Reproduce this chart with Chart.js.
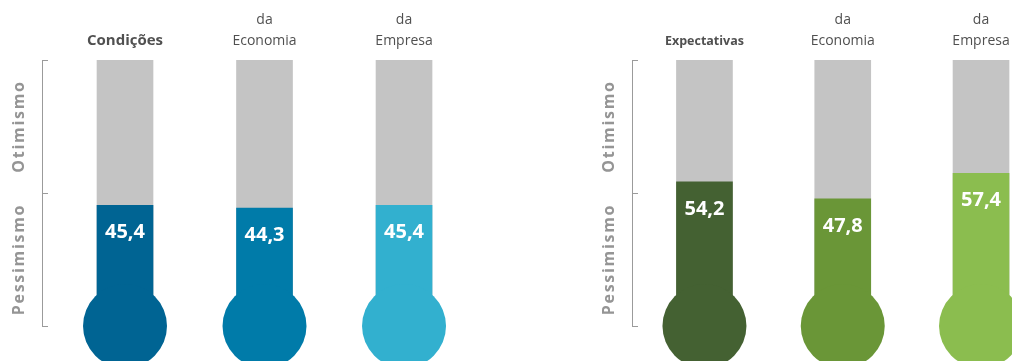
<!DOCTYPE html>
<html>
<head>
<meta charset="utf-8">
<script src="https://cdn.jsdelivr.net/npm/chart.js@4.4.1/dist/chart.umd.min.js"></script>
<style>
    body { margin: 0; background: #fff; }
    #wrap { position: relative; width: 1012px; height: 361px; overflow: hidden; }
    .panel { position: absolute; top: 0; width: 506px; height: 361px; }
</style>
</head>
<body>
<div id="wrap">
    <div class="panel" style="left:0"><canvas id="chart-condicoes" width="506" height="361"></canvas></div>
    <div class="panel" style="left:506px"><canvas id="chart-expectativas" width="506" height="361"></canvas></div>
</div>
<script>
// data
const condicoesLabels = ['Condições', ['da', 'Economia'], ['da', 'Empresa']];
const condicoesValues = [45.4, 44.3, 45.4];
const expectativasLabels = ['Expectativas', ['da', 'Economia'], ['da', 'Empresa']];
const expectativasValues = [54.2, 47.8, 57.4];
const scaleMin = 0;
const scaleMax = 100;
const scaleStep = 50;
const sideLabels = ['Pessimismo', 'Otimismo'];
const sideLabelValues = [25, 75];

const blues = ['#006493', '#007ba9', '#32b0cf'];
const greens = ['#446132', '#6a9637', '#8bbd4f'];
const tubeGray = '#c4c4c4';
const axisGray = '#9b9b9b';
const FONT = "'Open Sans', 'DejaVu Sans', sans-serif";

function formatValue(v) {
    return v.toFixed(1).replace('.', ',');
}

// value inside each tube + rotated Otimismo / Pessimismo next to the axis
const thermoText = {
    id: 'thermoText',
    afterDatasetsDraw(chart) {
        const ctx = chart.ctx;
        const meta = chart.getDatasetMeta(1);
        const values = chart.data.datasets[1].data;
        ctx.save();
        ctx.fillStyle = '#ffffff';
        ctx.font = 'bold 20px ' + FONT;
        ctx.textAlign = 'center';
        ctx.textBaseline = 'middle';
        meta.data.forEach((bar, i) => {
            ctx.fillText(formatValue(values[i].y), bar.x, bar.y + 27);
        });
        ctx.restore();

        const yScale = chart.scales.y;
        ctx.save();
        ctx.fillStyle = '#959595';
        ctx.font = 'bold 16px ' + FONT;
        ctx.textAlign = 'center';
        ctx.textBaseline = 'middle';
        ctx.letterSpacing = '1.7px';
        sideLabels.forEach((txt, i) => {
            ctx.save();
            ctx.translate(yScale.right - 22.5, yScale.getPixelForValue(sideLabelValues[i]));
            ctx.rotate(-Math.PI / 2);
            ctx.fillText(txt, 0, 0);
            ctx.restore();
        });
        ctx.restore();
    }
};

function makeThermometers(canvasId, labels, values, colors, setup) {
    const ctx = document.getElementById(canvasId).getContext('2d');
    return new Chart(ctx, {
        type: 'bar',
        data: {
            datasets: [
                {
                    type: 'bubble',
                    data: labels.map((l, i) => ({ x: i, y: scaleMin })),
                    radius: 42,
                    backgroundColor: colors,
                    borderWidth: 0,
                    clip: false
                },
                {
                    data: values.map((v, i) => ({ x: i, y: v })),
                    backgroundColor: colors,
                    barThickness: 56,
                    grouped: false
                },
                {
                    data: values.map((v, i) => ({ x: i, y: scaleMax })),
                    backgroundColor: tubeGray,
                    barThickness: 56,
                    grouped: false
                }
            ]
        },
        options: {
            responsive: false,
            animation: false,
            events: [],
            layout: { autoPadding: false, padding: { top: 0, right: 0, bottom: 35, left: 0 } },
            plugins: { legend: { display: false }, tooltip: { enabled: false } },
            scales: {
                x: {
                    type: 'linear',
                    position: 'top',
                    offset: false,
                    min: setup.xMin,
                    max: setup.xMax,
                    afterBuildTicks: s => { s.ticks = labels.map((l, i) => ({ value: i })); },
                    afterFit: s => { s.height = 60; s.paddingLeft = 0; s.paddingRight = 0; },
                    grid: { display: false, drawTicks: false, offset: false },
                    border: { display: false },
                    ticks: {
                        autoSkip: false,
                        maxRotation: 0,
                        padding: 8.5,
                        color: '#505050',
                        callback: v => labels[v],
                        font: c => c.index === 0
                            ? { family: FONT, size: setup.headSize, weight: 'bold', lineHeight: '21px' }
                            : { family: FONT, size: 14, weight: 'normal', lineHeight: '21px' }
                    }
                },
                y: {
                    min: scaleMin,
                    max: scaleMax,
                    afterFit: s => { s.width = setup.axisWidth; },
                    ticks: { display: false, stepSize: scaleStep },
                    grid: { drawOnChartArea: false, drawTicks: true, tickLength: -6, color: axisGray },
                    border: { display: true, color: axisGray, width: 1 }
                }
            }
        },
        plugins: [thermoText]
    });
}

makeThermometers('chart-condicoes', condicoesLabels, condicoesValues, blues,
    { axisWidth: 42, xMin: -0.595, xMax: 2.731, headSize: 15 });
makeThermometers('chart-expectativas', expectativasLabels, expectativasValues, greens,
    { axisWidth: 126, xMin: -0.524, xMax: 2.224, headSize: 12.5 });
</script>
</body>
</html>
